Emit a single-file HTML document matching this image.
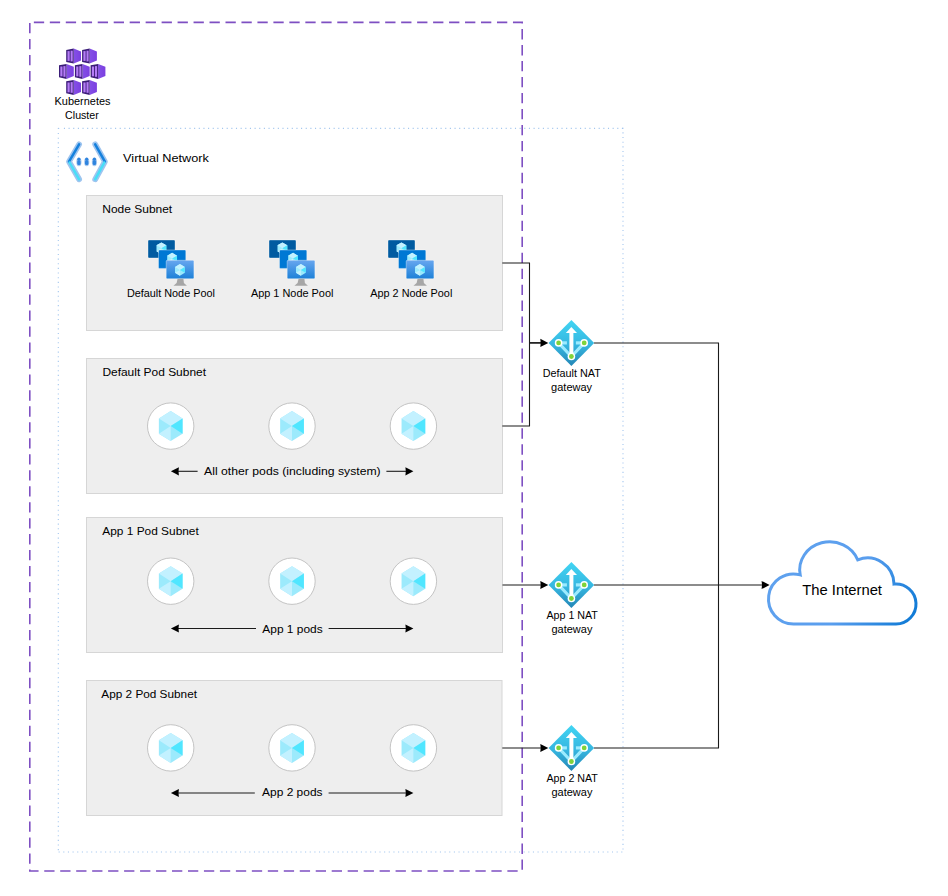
<!DOCTYPE html>
<html><head><meta charset="utf-8">
<style>
html,body{margin:0;padding:0;background:#fff;width:948px;height:896px;overflow:hidden}
svg{display:block}
text{font-family:"Liberation Sans",sans-serif;fill:#000}
</style></head>
<body>
<svg width="948" height="896" viewBox="0 0 948 896">

<defs>
  <linearGradient id="natg" x1="0" y1="0" x2="0" y2="1">
    <stop offset="0" stop-color="#41d5f3"/>
    <stop offset="0.55" stop-color="#36b6e0"/>
    <stop offset="1" stop-color="#2386b6"/>
  </linearGradient>
  <linearGradient id="cloudg" gradientUnits="userSpaceOnUse" x1="770" y1="545" x2="915" y2="625">
    <stop offset="0" stop-color="#60a2ee"/>
    <stop offset="0.55" stop-color="#5a9eee"/>
    <stop offset="1" stop-color="#0b78d4"/>
  </linearGradient>
  <linearGradient id="mon3" x1="0" y1="0" x2="0" y2="1">
    <stop offset="0" stop-color="#68a6ef"/>
    <stop offset="1" stop-color="#1d81d8"/>
  </linearGradient>
  <linearGradient id="contg" x1="0" y1="0" x2="1" y2="0">
    <stop offset="0" stop-color="#8450e6"/>
    <stop offset="1" stop-color="#7b3fe0"/>
  </linearGradient>
  <g id="cube">
    <polygon points="0,-7.5 6.3,-3.8 6.3,3.8 0,7.5 -6.3,3.8 -6.3,-3.8" fill="#9ceafc"/>
    <polygon points="0,-7.5 6.3,-3.8 0,0 -6.3,-3.8" fill="#c3f1ff"/>
    <polygon points="6.3,-3.8 0,0 6.3,3.8" fill="#50e6ff"/>
    <polygon points="-6.3,3.8 0,0 0,7.5" fill="#c3f1ff"/>
  </g>
  <g id="pod">
    <circle cx="0" cy="0" r="23.2" fill="#fff" stroke="#c4c4c4" stroke-width="1"/>
    <g transform="scale(1.88,2.0)"><use href="#cube"/></g>
  </g>
  <g id="nat">
    <polygon points="0,-23 22.8,0 0,23 -22.8,0" fill="url(#natg)"/>
    <path d="M-12.8,0 L0,13.6 L12.8,0" fill="none" stroke="#9cebff" stroke-width="3"/>
    <rect x="-10" y="-1.6" width="5.5" height="3.2" fill="#9cebff"/>
    <rect x="4.5" y="-1.6" width="5.5" height="3.2" fill="#9cebff"/>
    <rect x="-2" y="-10.5" width="4" height="24" fill="#fff"/>
    <polygon points="0,-16 5.6,-10 -5.6,-10" fill="#fff"/>
    <circle cx="-12.8" cy="0" r="3.8" fill="#fff"/><circle cx="-12.8" cy="0" r="2.4" fill="#7fd33a"/>
    <circle cx="12.8" cy="0" r="3.8" fill="#fff"/><circle cx="12.8" cy="0" r="2.4" fill="#7fd33a"/>
    <circle cx="0" cy="13.6" r="3.8" fill="#fff"/><circle cx="0" cy="13.6" r="2.4" fill="#7fd33a"/>
  </g>
  <g id="pool">
    <rect x="0" y="0" width="27" height="18" rx="1" fill="#005ba1" stroke="#fff" stroke-opacity="0.6" stroke-width="0.6"/>
    <g transform="translate(13.4,8.3) scale(0.78)"><use href="#cube"/></g>
    <rect x="10.5" y="10" width="27.3" height="18.4" rx="1" fill="#0078d4" stroke="#fff" stroke-opacity="0.6" stroke-width="0.6"/>
    <g transform="translate(24.1,18.6) scale(0.78)"><use href="#cube"/></g>
    <rect x="18.2" y="20.3" width="27.7" height="18.4" rx="1" fill="url(#mon3)" stroke="#fff" stroke-opacity="0.6" stroke-width="0.6"/>
    <g transform="translate(31.9,29.9) scale(0.78)"><use href="#cube"/></g>
    <path d="M29.6,38.7 L35.4,38.7 L35.9,43 L38.9,45.7 L25.5,45.7 L28.6,43 Z" fill="#a6a6a6"/>
  </g>
  <g id="cont">
    <polygon points="7.5,0 14.8,2.8 14.8,12 7.5,15" fill="url(#contg)"/>
    <polygon points="0,1.3 7.5,0 7.5,15 0,13.3" fill="#3b1d78"/>
    <rect x="1.3" y="2.5" width="2.2" height="9.8" fill="#b57cf6"/>
    <rect x="4.4" y="2.1" width="2.1" height="10.7" fill="#b57cf6"/>
  </g>
</defs>


<path d="M29.8,22.4 H522.2 V871 H29.8 Z" fill="none" stroke="#7e4fc2" stroke-width="1.6" stroke-dasharray="10.3 5.67" stroke-dashoffset="-4.05"/>
<g fill="none" stroke="#a3c6ee" stroke-width="1.1" stroke-dasharray="1.1 3.55">
<path d="M57.8,128.4 H59.2" stroke-dasharray="none"/>
<path d="M63.9,128.4 H623"/>
<path d="M623,127.7 V852"/>
<path d="M58.3,133 V852"/>
<path d="M58.6,852 H623"/>
</g>
<rect x="86.5" y="195.5" width="416" height="135" fill="#eeeeee" stroke="#d6d6d6" stroke-width="1"/>
<rect x="86.5" y="358.5" width="416" height="135" fill="#eeeeee" stroke="#d6d6d6" stroke-width="1"/>
<rect x="86.5" y="517.5" width="416" height="135" fill="#eeeeee" stroke="#d6d6d6" stroke-width="1"/>
<rect x="86.5" y="680.5" width="415.5" height="135" fill="#eeeeee" stroke="#d6d6d6" stroke-width="1"/>

<use href="#cont" x="66.2" y="48.6"/>
<use href="#cont" x="82.1" y="48.6"/>
<use href="#cont" x="59" y="64"/>
<use href="#cont" x="74.9" y="64"/>
<use href="#cont" x="90.6" y="64"/>
<use href="#cont" x="66.2" y="80"/>
<use href="#cont" x="82.1" y="80"/>

<g fill="none" stroke-linecap="round" stroke-linejoin="round">
  <path d="M79.1,144.4 L69,161.6 L79.1,179.3 M95.2,144.4 L104.9,161.6 L95.2,179.3" stroke="#9ec4ef" stroke-width="5.8"/>
  <path d="M79.1,144.4 L69,161.6 M95.2,144.4 L104.9,161.6" stroke="#1581dd" stroke-width="2.5"/>
  <path d="M69.6,162.6 L79.1,179.3 M104.3,162.6 L95.2,179.3" stroke="#48def8" stroke-width="2.5"/>
</g>
<g>
  <ellipse cx="78.9" cy="162" rx="2.6" ry="4.2" fill="#a9c9f0"/>
  <ellipse cx="86.7" cy="162" rx="2.6" ry="4.2" fill="#a9c9f0"/>
  <ellipse cx="94.4" cy="162" rx="2.6" ry="4.2" fill="#a9c9f0"/>
  <g fill="#2f84de">
  <circle cx="78.9" cy="159.2" r="1.6"/><rect x="77.2" y="160.3" width="3.4" height="4.8" rx="1.4"/>
  <circle cx="86.7" cy="159.2" r="1.6"/><rect x="85" y="160.3" width="3.4" height="4.8" rx="1.4"/>
  <circle cx="94.4" cy="159.2" r="1.6"/><rect x="92.7" y="160.3" width="3.4" height="4.8" rx="1.4"/>
  </g>
</g>

<use href="#pool" x="148" y="240"/>
<use href="#pool" x="269" y="240"/>
<use href="#pool" x="388" y="240"/>

<use href="#pod" x="170.7" y="426.1"/><use href="#pod" x="292" y="426.1"/><use href="#pod" x="413.4" y="426.1"/>
<use href="#pod" x="170.7" y="581.2"/><use href="#pod" x="292" y="581.2"/><use href="#pod" x="413.4" y="581.2"/>
<use href="#pod" x="170.7" y="747.9"/><use href="#pod" x="292" y="747.9"/><use href="#pod" x="413.4" y="747.9"/>

<path d="M197.6,471.3 H176.9" stroke="#1a1a1a" stroke-width="1.1" fill="none"/><polygon points="170.9,471.3 178.9,467.2 178.5,471.3 178.9,475.40000000000003" fill="#000"/>
<path d="M386.4,471.3 H407.4" stroke="#1a1a1a" stroke-width="1.1" fill="none"/><polygon points="413.4,471.3 405.4,467.2 405.79999999999995,471.3 405.4,475.40000000000003" fill="#000"/>
<path d="M256.0,628.5 H176.9" stroke="#1a1a1a" stroke-width="1.1" fill="none"/><polygon points="170.9,628.5 178.9,624.4 178.5,628.5 178.9,632.6" fill="#000"/>
<path d="M328.6,628.5 H407.4" stroke="#1a1a1a" stroke-width="1.1" fill="none"/><polygon points="413.4,628.5 405.4,624.4 405.79999999999995,628.5 405.4,632.6" fill="#000"/>
<path d="M254.8,793.0 H176.9" stroke="#1a1a1a" stroke-width="1.1" fill="none"/><polygon points="170.9,793.0 178.9,788.9 178.5,793.0 178.9,797.1" fill="#000"/>
<path d="M328.6,793.0 H407.4" stroke="#1a1a1a" stroke-width="1.1" fill="none"/><polygon points="413.4,793.0 405.4,788.9 405.79999999999995,793.0 405.4,797.1" fill="#000"/>

<g stroke="#1a1a1a" stroke-width="1.1" fill="none">
  <path d="M502.3,263 H529.5 V426 H502.3"/>
  <path d="M594,343 H718.5 V748 H594"/>
  <path d="M594,585 H718"/>
  
</g>
<path d="M529.5,342.9 H542.3" stroke="#1a1a1a" stroke-width="1.7" fill="none"/><polygon points="548.3,342.9 540.3,338.79999999999995 540.6999999999999,342.9 540.3,347.0" fill="#000"/>
<path d="M502.5,585 H542.3" stroke="#1a1a1a" stroke-width="1.1" fill="none"/><polygon points="548.3,585 540.3,580.9 540.6999999999999,585 540.3,589.1" fill="#000"/>
<path d="M502.3,748 H542.3" stroke="#1a1a1a" stroke-width="1.1" fill="none"/><polygon points="548.3,748 540.3,743.9 540.6999999999999,748 540.3,752.1" fill="#000"/>
<path d="M718.5,585 H763.6" stroke="#1a1a1a" stroke-width="1.1" fill="none"/><polygon points="769.6,585 761.6,580.9 762.0,585 761.6,589.1" fill="#000"/>

<use href="#nat" x="571.4" y="342.9"/>
<use href="#nat" x="571.4" y="584.9"/>
<use href="#nat" x="571.4" y="747.9"/>

<path d="M793.5,624 A25,25 0 1 1 800.22,574.92 A30,28 0 0 1 857.76,559.85 A26.5,26.5 0 0 1 894.0,584.10 A20,20 0 1 1 896,624 Z" fill="#fff" stroke="url(#cloudg)" stroke-width="3"/>

<text x="54.50" y="104.6" font-size="10.5" textLength="56.00" lengthAdjust="spacingAndGlyphs">Kubernetes</text>
<text x="65.10" y="118.7" font-size="10.5" textLength="33.70" lengthAdjust="spacingAndGlyphs">Cluster</text>
<text x="123.10" y="162.3" font-size="11.5" textLength="85.80" lengthAdjust="spacingAndGlyphs">Virtual Network</text>
<text x="102.30" y="213.0" font-size="11.2" textLength="69.90" lengthAdjust="spacingAndGlyphs">Node Subnet</text>
<text x="126.90" y="296.6" font-size="10.8" textLength="88.00" lengthAdjust="spacingAndGlyphs">Default Node Pool</text>
<text x="250.90" y="296.6" font-size="10.8" textLength="82.50" lengthAdjust="spacingAndGlyphs">App 1 Node Pool</text>
<text x="370.30" y="296.6" font-size="10.8" textLength="82.00" lengthAdjust="spacingAndGlyphs">App 2 Node Pool</text>
<text x="102.40" y="375.8" font-size="11.2" textLength="103.60" lengthAdjust="spacingAndGlyphs">Default Pod Subnet</text>
<text x="204.10" y="475.0" font-size="11.2" textLength="176.60" lengthAdjust="spacingAndGlyphs">All other pods (including system)</text>
<text x="102.30" y="534.8" font-size="11.2" textLength="96.50" lengthAdjust="spacingAndGlyphs">App 1 Pod Subnet</text>
<text x="262.30" y="632.6" font-size="11.2" textLength="60.40" lengthAdjust="spacingAndGlyphs">App 1 pods</text>
<text x="101.30" y="698.1" font-size="11.2" textLength="95.70" lengthAdjust="spacingAndGlyphs">App 2 Pod Subnet</text>
<text x="262.10" y="796.3" font-size="11.2" textLength="60.40" lengthAdjust="spacingAndGlyphs">App 2 pods</text>
<text x="542.70" y="376.9" font-size="10.8" textLength="58.10" lengthAdjust="spacingAndGlyphs">Default NAT</text>
<text x="551.10" y="390.5" font-size="10.8" textLength="41.00" lengthAdjust="spacingAndGlyphs">gateway</text>
<text x="546.40" y="618.7" font-size="10.8" textLength="51.50" lengthAdjust="spacingAndGlyphs">App 1 NAT</text>
<text x="551.50" y="632.5" font-size="10.8" textLength="40.90" lengthAdjust="spacingAndGlyphs">gateway</text>
<text x="546.40" y="782.0" font-size="10.8" textLength="51.50" lengthAdjust="spacingAndGlyphs">App 2 NAT</text>
<text x="551.50" y="795.8" font-size="10.8" textLength="40.90" lengthAdjust="spacingAndGlyphs">gateway</text>
<text x="802.20" y="594.8" font-size="13.8" textLength="79.80" lengthAdjust="spacingAndGlyphs">The Internet</text>

</svg>
</body></html>
